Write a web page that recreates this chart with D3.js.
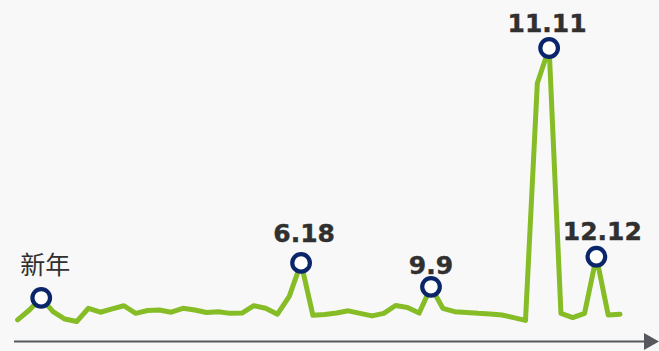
<!DOCTYPE html>
<html>
<head>
<meta charset="utf-8">
<script src="https://cdn.jsdelivr.net/npm/d3@7"></script>
<style>
  html, body { margin: 0; padding: 0; background: #f8f8f8; }
  svg { display: block; }
</style>
</head>
<body>
<svg id="chart" width="659" height="351"></svg>
<script>
// Weekly sales index over one year (week 0..51), peak week = 100
const weeks = d3.range(52);
const salesIndex = [
  3.6, 7.1, 11.4, 6.5, 3.9, 3.0, 7.7, 6.3, 7.5, 8.6,
  5.9, 6.9, 7.1, 6.3, 7.7, 7.1, 6.2, 6.5, 5.9, 6.0,
  8.6, 7.7, 5.6, 11.9, 23.8, 5.2, 5.5, 6.0, 6.8, 5.9,
  5.0, 5.9, 8.7, 8.0, 6.0, 15.3, 7.7, 6.5, 6.2, 5.9,
  5.7, 5.3, 4.4, 3.4, 87.5, 100, 5.9, 4.4, 5.9, 26.0,
  5.3, 5.6
];

// Shopping festivals marked on the curve
const eventWeeks  = [2, 24, 35, 45, 49];
const eventLabels = ["新年", "6.18", "9.9", "11.11", "12.12"];

// Label placement relative to each marker (dx, dy)
const labelOffsets = [[4, -24], [3, -21], [0, -13], [-2, -16], [6, -17]];

const W = 659, H = 351;
const svg = d3.select("#chart");

svg.append("rect").attr("width", W).attr("height", H).attr("fill", "#f8f8f8");

const x = d3.scaleLinear().domain([0, 51]).range([17.6, 620]);
const y = d3.scaleLinear().domain([0, 100]).range([330, 48]);

// Time axis with arrow
const axisY = 341.5;
svg.append("line")
  .attr("x1", 14).attr("x2", 648)
  .attr("y1", axisY).attr("y2", axisY)
  .attr("stroke", "#55585c").attr("stroke-width", 2.2);
svg.append("path")
  .attr("d", `M644,${axisY - 8.5} L659,${axisY} L644,${axisY + 8.5} Z`)
  .attr("fill", "#55585c");

// Sales line
const line = d3.line()
  .x((d, i) => x(weeks[i]))
  .y(d => y(d));

svg.append("path")
  .datum(salesIndex)
  .attr("d", line)
  .attr("fill", "none")
  .attr("stroke", "#86bc25")
  .attr("stroke-width", 5)
  .attr("stroke-linejoin", "round")
  .attr("stroke-linecap", "round");

// Event markers
const events = eventWeeks.map((w, i) => ({
  week: w, value: salesIndex[w], label: eventLabels[i], off: labelOffsets[i]
}));

svg.selectAll("circle.marker")
  .data(events)
  .enter().append("circle")
  .attr("class", "marker")
  .attr("cx", d => x(d.week))
  .attr("cy", d => y(d.value))
  .attr("r", 8.8)
  .attr("fill", "#ffffff")
  .attr("stroke", "#0a2569")
  .attr("stroke-width", 4.2);

const isNumeric = s => /\d/.test(s);

svg.selectAll("text.label")
  .data(events)
  .enter().append("text")
  .attr("class", "label")
  .attr("x", d => x(d.week) + d.off[0])
  .attr("y", d => y(d.value) + d.off[1])
  .attr("text-anchor", "middle")
  .attr("fill", "#303030")
  .attr("font-family", d => isNumeric(d.label) ? "'DejaVu Sans', Verdana, sans-serif" : "'Noto Sans CJK SC', sans-serif")
  .attr("font-weight", d => isNumeric(d.label) ? "bold" : "normal")
  .attr("font-size", d => isNumeric(d.label) ? 25 : 25)
  .attr("stroke", d => isNumeric(d.label) ? "#303030" : "none")
  .attr("stroke-width", 0.4)
  .text(d => d.label);
</script>
</body>
</html>
